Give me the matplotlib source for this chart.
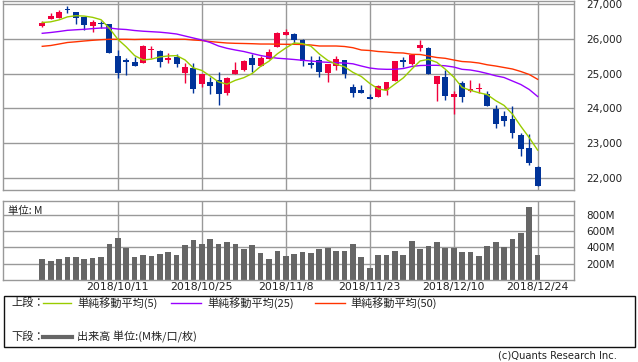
import matplotlib
matplotlib.use("Agg")
import matplotlib.pyplot as plt
import numpy as np
from matplotlib.lines import Line2D
from matplotlib.patches import Rectangle

plt.rcParams['font.family'] = ['DejaVu Sans', 'Noto Sans CJK JP']

# ---- data ----
opens = [26380, 26578, 26606, 26833, 26770, 26626, 26376, 26450, 26417, 25505,
         25390, 25342, 25313, 25690, 25649, 25390, 25486, 25026, 25152, 24710,
         24750, 24816, 24451, 24988, 25103, 25448, 25218, 25419, 25764, 26109,
         26146, 25965, 25313, 25390, 25017, 25218, 25390, 24615, 24537, 24327,
         24336, 24528, 24787, 25380, 25276, 25735, 25735, 24701, 24902, 24336,
         24730, 24500, 24560, 24413, 23991, 23790, 23704, 23244, 22862, 22324]
highs = [26510, 26733, 26828, 26943, 26770, 26626, 26540, 26520, 26424, 25678,
         25457, 25472, 25818, 25793, 25678, 25592, 25563, 25304, 25304, 25000,
         24893, 25046, 24893, 25333, 25390, 25563, 25505, 25707, 26195, 26281,
         26167, 25990, 25505, 25505, 25276, 25505, 25390, 24701, 24672, 24413,
         24672, 24758, 25362, 25477, 25534, 25965, 25764, 24931, 25103, 24500,
         24787, 24816, 24730, 24500, 24106, 23933, 24077, 23301, 23264, 22330]
lows = [26348, 26578, 26606, 26750, 26425, 26253, 26204, 26300, 25583, 24882,
        24968, 25227, 25300, 25457, 25198, 25304, 25198, 24738, 24430, 24615,
        24422, 24106, 24394, 24988, 25074, 25046, 25218, 25419, 25764, 26109,
        25871, 25218, 25161, 24910, 24758, 25103, 24873, 24336, 24451, 24261,
        24336, 24393, 24787, 25189, 25247, 25649, 24988, 24221, 24241, 23847,
        24192, 24480, 24451, 24077, 23445, 23502, 23158, 22640, 22381, 21778]
closes = [26458, 26664, 26770, 26820, 26606, 26405, 26483, 26430, 25583, 25026,
          25320, 25227, 25802, 25707, 25342, 25457, 25276, 25189, 24548, 24988,
          24652, 24422, 24873, 25103, 25362, 25247, 25448, 25620, 26167, 26195,
          25965, 25362, 25247, 25046, 25276, 25419, 24988, 24451, 24451, 24278,
          24643, 24758, 25362, 25340, 25534, 25822, 24988, 24931, 24356, 24413,
          24336, 24557, 24590, 24077, 23560, 23646, 23301, 22841, 22439, 21778]
prior_closes = [26562, 26492, 26385, 26440]   # closes before the first candle (for MA5)

ma25 = [26158, 26181, 26210, 26244, 26259, 26273, 26293, 26310, 26310, 26281,
        26267, 26238, 26218, 26204, 26190, 26167, 26138, 26080, 26023, 25965,
        25894, 25793, 25727, 25678, 25635, 25577, 25520, 25477, 25442, 25425,
        25405, 25382, 25362, 25339, 25324, 25313, 25304, 25281, 25218, 25161,
        25132, 25123, 25123, 25146, 25204, 25232, 25238, 25238, 25224, 25189,
        25123, 25103, 25060, 25003, 24937, 24888, 24787, 24686, 24543, 24342]
ma50 = [25784, 25807, 25850, 25894, 25914, 25937, 25957, 25974, 25986, 25986,
        25986, 25980, 25986, 25986, 25986, 25986, 25986, 25986, 25965, 25951,
        25922, 25899, 25879, 25870, 25865, 25859, 25850, 25850, 25845, 25842,
        25842, 25836, 25822, 25793, 25793, 25793, 25779, 25744, 25678, 25664,
        25635, 25620, 25600, 25592, 25554, 25549, 25505, 25462, 25439, 25391,
        25347, 25333, 25304, 25253, 25218, 25175, 25132, 25060, 24974, 24836]
volume = [262, 238, 262, 287, 287, 262, 275, 287, 446, 519,
          397, 287, 311, 299, 324, 348, 311, 434, 495, 446,
          507, 446, 470, 446, 385, 434, 336, 262, 360, 299,
          324, 348, 336, 385, 397, 360, 360, 446, 287, 153,
          311, 311, 360, 311, 483, 385, 421, 470, 397, 397,
          348, 348, 299, 421, 470, 409, 507, 580, 897, 311]
date_idx = [9, 19, 29, 39, 49, 59]
date_labels = ["2018/10/11", "2018/10/25", "2018/11/8", "2018/11/23", "2018/12/10", "2018/12/24"]
price_ticks = [22000, 23000, 24000, 25000, 26000, 27000]
vol_ticks = [200, 400, 600, 800]

# ---- styles ----
UP = "#F0003C"
DOWN = "#003399"
C5 = "#99CC00"
C25 = "#9900FF"
C50 = "#FF3300"
GRID = "#999999"
VOLC = "#666666"
TXT = "#222222"

W, H = 638, 362
fig = plt.figure(figsize=(W / 100, H / 100), dpi=100)

def ax_rect(l, t, r, b):
    return [l / W, 1 - b / H, (r - l) / W, (b - t) / H]

ax = fig.add_axes(ax_rect(3.3, 0.7, 574, 190.3))
axv = fig.add_axes(ax_rect(3.3, 201, 574, 280))

n = len(closes)
x = np.arange(n)
allc = np.array(prior_closes + closes, dtype=float)
ma5 = np.convolve(allc, np.ones(5) / 5, mode="valid")[-n:]

xlim = (-4.64, 63.33)
for a in (ax, axv):
    a.set_xlim(*xlim)
    for s in a.spines.values():
        s.set_color(GRID)
        s.set_linewidth(1.0)
    a.set_xticks([])
    a.tick_params(axis="y", length=0, labelsize=7.5, colors=TXT, pad=9)
    a.yaxis.tick_right()
    for xi in date_idx:
        a.axvline(xi, color=GRID, lw=1.0, zorder=0)

ax.set_ylim(21646, 27095)
ax.set_yticks(price_ticks)
ax.set_yticklabels([f"{v:,}" for v in price_ticks])
for v in price_ticks:
    ax.axhline(v, color=GRID, lw=1.0, zorder=0)

# candles
o = np.array(opens); c = np.array(closes); h = np.array(highs); l = np.array(lows)
cols = [UP if cc > oo else DOWN for oo, cc in zip(o, c)]
ax.vlines(x, l, h, colors=cols, lw=1.0, zorder=2)
body_bot = np.minimum(o, c)
body_h = np.maximum(np.abs(c - o), 28)
ax.bar(x, body_h, bottom=body_bot, width=0.7, color=cols, linewidth=0, zorder=3)

ax.plot(x, ma50, color=C50, lw=1.0, zorder=4)
ax.plot(x, ma25, color=C25, lw=1.0, zorder=4)
ax.plot(x, ma5, color=C5, lw=1.0, zorder=4)

# volume
axv.set_ylim(0, 972)
axv.set_yticks(vol_ticks)
axv.set_yticklabels([f"{v}M" for v in vol_ticks])
for v in vol_ticks:
    axv.axhline(v, color=GRID, lw=1.0, zorder=0)
axv.bar(x, volume, width=0.68, color=VOLC, linewidth=0, zorder=2)
axv.text(0.008, 0.88, "単位: M", transform=axv.transAxes, fontsize=7.5,
         family=["Noto Sans CJK JP", "DejaVu Sans"], color=TXT, va="center", ha="left")

# date labels
for xi, lab in zip(date_idx, date_labels):
    fx = (3.3 + (xi - xlim[0]) / (xlim[1] - xlim[0]) * (574 - 3.3)) / W
    fig.text(fx, 1 - 287 / H, lab, ha="center", va="center", fontsize=7.8, color=TXT)

# legend box
fig.patches.append(Rectangle((3.5 / W, 1 - 346.5 / H), (635 - 3.5) / W, (346.5 - 295.5) / H,
                             transform=fig.transFigure, fill=False, edgecolor="#111111", lw=1.0))
jp = ["Noto Sans CJK JP", "DejaVu Sans"]
def ftxt(px, py, s, **kw):
    fig.text(px / W, 1 - py / H, s, family=jp, fontsize=8, color=TXT, va="center", ha="left", **kw)
def fline(x0, x1, py, color, lw):
    fig.lines.append(Line2D([x0 / W, x1 / W], [1 - py / H, 1 - py / H], transform=fig.transFigure,
                            color=color, lw=lw))

ftxt(11, 303, "上段：")
fline(43, 71, 303, C5, 1.0)
ftxt(77, 303, "単純移動平均(5)")
fline(171, 201, 303, C25, 1.0)
ftxt(207, 303, "単純移動平均(25)")
fline(315, 345, 303, C50, 1.0)
ftxt(350, 303, "単純移動平均(50)")
ftxt(11, 337, "下段：")
fline(43, 72, 337, VOLC, 3.0)
ftxt(77, 337, "出来高 単位:(M株/口/枚)")

fig.text(617 / W, 1 - 355 / H, "(c)Quants Research Inc.", ha="right", va="center",
         fontsize=7.2, color=TXT)

fig.savefig("out.png", dpi=100)
